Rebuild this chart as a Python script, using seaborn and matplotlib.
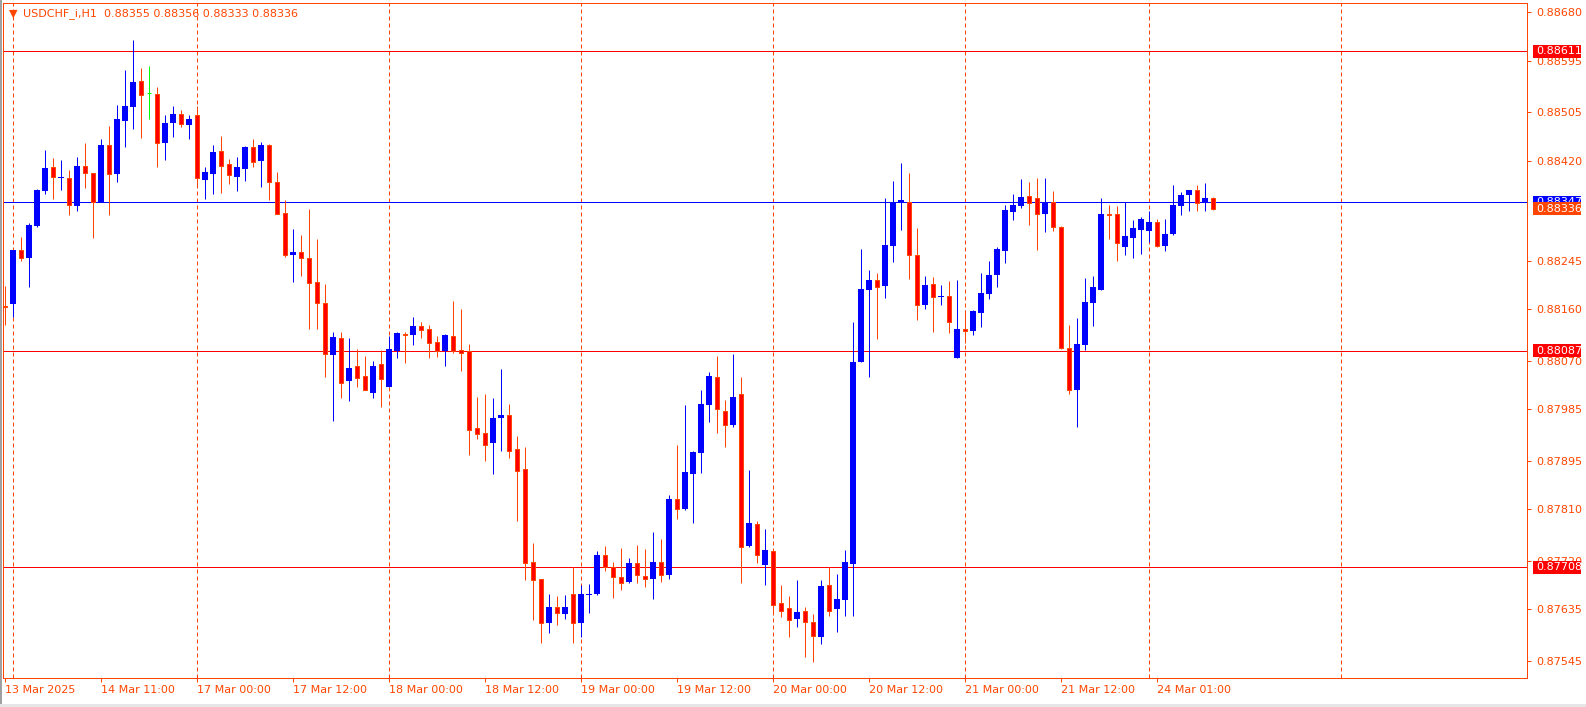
import numpy as np
import pandas as pd
import matplotlib
matplotlib.use("Agg")
import matplotlib.pyplot as plt
import seaborn as sns
from matplotlib.patches import Rectangle
from matplotlib.transforms import blended_transform_factory

# ---------------- data (USDCHF_i, H1) ----------------
opens = [0.88165, 0.88169, 0.88264, 0.88250, 0.88306, 0.88366, 0.88409, 0.88390, 0.88390, 0.88341,
         0.88411, 0.88398, 0.88348, 0.88447, 0.88397, 0.88490, 0.88513, 0.88559, 0.88538, 0.88537,
         0.88450, 0.88485, 0.88501, 0.88483, 0.88500, 0.88386, 0.88397, 0.88437, 0.88414, 0.88391,
         0.88405, 0.88444, 0.88419, 0.88447, 0.88383, 0.88328, 0.88255, 0.88260, 0.88250, 0.88208,
         0.88171, 0.88080, 0.88110, 0.88035, 0.88061, 0.88043, 0.88014, 0.88064, 0.88024, 0.88087,
         0.88117, 0.88115, 0.88131, 0.88125, 0.88103, 0.88087, 0.88113, 0.88089, 0.88087, 0.87952,
         0.87943, 0.87925, 0.87970, 0.87975, 0.87915, 0.87880, 0.87717, 0.87688, 0.87610, 0.87639,
         0.87627, 0.87661, 0.87611, 0.87659, 0.87661, 0.87730, 0.87708, 0.87691, 0.87683, 0.87716,
         0.87693, 0.87688, 0.87717, 0.87694, 0.87828, 0.87811, 0.87872, 0.87909, 0.87993, 0.88041,
         0.87982, 0.87958, 0.88012, 0.87746, 0.87784, 0.87712, 0.87737, 0.87646, 0.87637, 0.87618,
         0.87632, 0.87612, 0.87587, 0.87677, 0.87636, 0.87651, 0.87714, 0.88068, 0.88194, 0.88211,
         0.88201, 0.88270, 0.88347, 0.88347, 0.88255, 0.88168, 0.88204, 0.88181, 0.88183, 0.88075,
         0.88125, 0.88121, 0.88154, 0.88187, 0.88220, 0.88262, 0.88330, 0.88341, 0.88358, 0.88355,
         0.88327, 0.88348, 0.88304, 0.88092, 0.88019, 0.88097, 0.88170, 0.88194, 0.88327, 0.88327,
         0.88269, 0.88285, 0.88299, 0.88296, 0.88313, 0.88271, 0.88292, 0.88341, 0.88359, 0.88369,
         0.88346, 0.88355]
highs = [0.88200, 0.88264, 0.88286, 0.88310, 0.88371, 0.88439, 0.88425, 0.88421, 0.88404, 0.88426,
         0.88451, 0.88398, 0.88458, 0.88480, 0.88517, 0.88579, 0.88631, 0.88582, 0.88586, 0.88549,
         0.88500, 0.88516, 0.88509, 0.88500, 0.88516, 0.88409, 0.88447, 0.88463, 0.88423, 0.88426,
         0.88446, 0.88458, 0.88453, 0.88449, 0.88400, 0.88351, 0.88300, 0.88290, 0.88335, 0.88283,
         0.88204, 0.88120, 0.88120, 0.88110, 0.88090, 0.88078, 0.88069, 0.88089, 0.88113, 0.88120,
         0.88120, 0.88146, 0.88138, 0.88132, 0.88113, 0.88117, 0.88174, 0.88160, 0.88099, 0.88006,
         0.88012, 0.88005, 0.88055, 0.87994, 0.87938, 0.87919, 0.87751, 0.87688, 0.87661, 0.87658,
         0.87660, 0.87709, 0.87677, 0.87679, 0.87737, 0.87746, 0.87717, 0.87742, 0.87725, 0.87747,
         0.87740, 0.87770, 0.87758, 0.87835, 0.87922, 0.87992, 0.87912, 0.88019, 0.88050, 0.88078,
         0.88001, 0.88082, 0.88041, 0.87879, 0.87789, 0.87775, 0.87737, 0.87677, 0.87658, 0.87686,
         0.87639, 0.87626, 0.87686, 0.87709, 0.87696, 0.87738, 0.88137, 0.88265, 0.88228, 0.88223,
         0.88354, 0.88384, 0.88416, 0.88398, 0.88302, 0.88218, 0.88216, 0.88202, 0.88209, 0.88211,
         0.88159, 0.88159, 0.88223, 0.88244, 0.88269, 0.88342, 0.88362, 0.88388, 0.88383, 0.88390,
         0.88390, 0.88367, 0.88306, 0.88133, 0.88145, 0.88215, 0.88218, 0.88355, 0.88342, 0.88341,
         0.88348, 0.88316, 0.88321, 0.88332, 0.88318, 0.88318, 0.88377, 0.88365, 0.88369, 0.88377,
         0.88381, 0.88356]
lows = [0.88132, 0.88146, 0.88245, 0.88199, 0.88303, 0.88362, 0.88353, 0.88369, 0.88324, 0.88332,
        0.88372, 0.88285, 0.88348, 0.88325, 0.88383, 0.88444, 0.88475, 0.88460, 0.88493, 0.88409,
        0.88421, 0.88462, 0.88478, 0.88458, 0.88373, 0.88353, 0.88362, 0.88363, 0.88379, 0.88367,
        0.88384, 0.88409, 0.88374, 0.88351, 0.88327, 0.88252, 0.88208, 0.88218, 0.88125, 0.88125,
        0.88042, 0.87965, 0.88005, 0.88000, 0.88024, 0.88019, 0.88005, 0.87988, 0.88024, 0.88075,
        0.88065, 0.88098, 0.88110, 0.88075, 0.88077, 0.88061, 0.88084, 0.88052, 0.87905, 0.87932,
        0.87895, 0.87872, 0.87912, 0.87900, 0.87790, 0.87686, 0.87616, 0.87576, 0.87594, 0.87608,
        0.87618, 0.87576, 0.87587, 0.87629, 0.87659, 0.87701, 0.87655, 0.87669, 0.87681, 0.87681,
        0.87674, 0.87653, 0.87683, 0.87688, 0.87793, 0.87809, 0.87785, 0.87874, 0.87963, 0.87944,
        0.87919, 0.87953, 0.87680, 0.87743, 0.87716, 0.87677, 0.87628, 0.87622, 0.87587, 0.87604,
        0.87552, 0.87543, 0.87574, 0.87623, 0.87595, 0.87623, 0.87623, 0.88068, 0.88042, 0.88108,
        0.88180, 0.88243, 0.88299, 0.88213, 0.88141, 0.88160, 0.88120, 0.88168, 0.88119, 0.88075,
        0.88101, 0.88114, 0.88129, 0.88178, 0.88199, 0.88241, 0.88316, 0.88337, 0.88307, 0.88264,
        0.88295, 0.88297, 0.88090, 0.88012, 0.87953, 0.88089, 0.88131, 0.88194, 0.88282, 0.88245,
        0.88254, 0.88250, 0.88257, 0.88278, 0.88268, 0.88261, 0.88290, 0.88324, 0.88331, 0.88332,
        0.88332, 0.88333]
closes = [0.88163, 0.88264, 0.88250, 0.88307, 0.88369, 0.88407, 0.88391, 0.88391, 0.88342, 0.88411,
          0.88399, 0.88348, 0.88447, 0.88397, 0.88493, 0.88516, 0.88558, 0.88535, 0.88538, 0.88450,
          0.88485, 0.88501, 0.88484, 0.88493, 0.88390, 0.88400, 0.88435, 0.88411, 0.88394, 0.88409,
          0.88444, 0.88418, 0.88447, 0.88383, 0.88327, 0.88255, 0.88260, 0.88250, 0.88205, 0.88171,
          0.88082, 0.88111, 0.88030, 0.88057, 0.88040, 0.88019, 0.88061, 0.88038, 0.88090, 0.88118,
          0.88114, 0.88131, 0.88124, 0.88101, 0.88086, 0.88115, 0.88087, 0.88084, 0.87949, 0.87942,
          0.87923, 0.87970, 0.87975, 0.87912, 0.87876, 0.87716, 0.87686, 0.87610, 0.87639, 0.87629,
          0.87639, 0.87611, 0.87661, 0.87661, 0.87730, 0.87708, 0.87692, 0.87681, 0.87716, 0.87694,
          0.87688, 0.87717, 0.87694, 0.87828, 0.87811, 0.87875, 0.87910, 0.87994, 0.88043, 0.87986,
          0.87958, 0.88006, 0.87744, 0.87786, 0.87729, 0.87739, 0.87643, 0.87632, 0.87616, 0.87630,
          0.87613, 0.87588, 0.87675, 0.87632, 0.87653, 0.87717, 0.88067, 0.88195, 0.88211, 0.88199,
          0.88272, 0.88347, 0.88351, 0.88255, 0.88168, 0.88202, 0.88182, 0.88183, 0.88138, 0.88125,
          0.88122, 0.88157, 0.88188, 0.88220, 0.88265, 0.88334, 0.88342, 0.88356, 0.88346, 0.88327,
          0.88348, 0.88304, 0.88092, 0.88019, 0.88099, 0.88173, 0.88199, 0.88327, 0.88325, 0.88275,
          0.88288, 0.88302, 0.88318, 0.88313, 0.88271, 0.88292, 0.88342, 0.88360, 0.88369, 0.88346,
          0.88355, 0.88336]

x_tick_bars = [0, 12, 24, 36, 48, 60, 72, 84, 96, 108, 120, 132, 144]
x_tick_labels = ["13 Mar 2025", "14 Mar 11:00", "17 Mar 00:00", "17 Mar 12:00", "18 Mar 00:00",
                 "18 Mar 12:00", "19 Mar 00:00", "19 Mar 12:00", "20 Mar 00:00", "20 Mar 12:00",
                 "21 Mar 00:00", "21 Mar 12:00", "24 Mar 01:00"]
day_start_bars = [1, 24, 48, 72, 96, 120, 143, 167]
y_tick_values = [0.88680, 0.88595, 0.88505, 0.88420, 0.88245, 0.88160, 0.88070,
                 0.87985, 0.87895, 0.87810, 0.87720, 0.87635, 0.87545]
red_levels = [0.88611, 0.88087, 0.87708]
blue_level = 0.88347
symbol = "USDCHF_i,H1"

# ---------------- style ----------------
sns.set_theme(style="white")
plt.rcParams['font.family'] = ['DejaVu Sans']

OR = '#FF4500'
BLUE = '#0000FF'
RED = '#FF0000'
PX = 0.72  # one pixel in points

W, H = 1586, 707
fig = plt.figure(figsize=(W / 100, H / 100), dpi=100)
fig.patch.set_facecolor('white')
L, R, T, B = 3, 1527, 3, 678
ax = fig.add_axes([L / W, 1 - B / H, (R - L) / W, (B - T) / H])
ax.set_facecolor('white')

df = pd.DataFrame({'o': opens, 'h': highs, 'l': lows, 'c': closes})
df['i'] = np.arange(len(df))
bull = df[df.c > df.o]
bear = df[df.c < df.o]
doji = df[df.c == df.o]

# grid (day separators)
for d in day_start_bars:
    ax.axvline(d, color=OR, lw=PX, ls=(0, (4, 3)), zorder=1)

# levels
for v in red_levels:
    ax.axhline(v, color=RED, lw=PX, zorder=2)
ax.axhline(blue_level, color=BLUE, lw=PX, zorder=2)

minh = 1.6e-5
# wicks
ax.vlines(bull.i, bull.l, bull.h, colors=BLUE, lw=PX, zorder=3)
ax.vlines(bear.i, bear.l, bear.h, colors=OR, lw=PX, zorder=3)
ax.vlines(doji.i, doji.l, doji.h, colors='#00FF00', lw=PX, zorder=3)
# bodies
ax.bar(bull.i, np.maximum(bull.c - bull.o, minh), bottom=bull.o, width=0.65,
       color=BLUE, linewidth=0, zorder=4)
ax.bar(bear.i, np.maximum(bear.o - bear.c, minh), bottom=bear.c, width=0.52,
       color=RED, edgecolor=OR, linewidth=PX, zorder=4)
ax.hlines(doji.o, doji.i - 0.3, doji.i + 0.3, colors='#00FF00', lw=PX, zorder=4)

ax.set_xlim(-0.25, 190.25)
ax.set_ylim(0.875144, 0.886958)

for s in ax.spines.values():
    s.set_color(OR)
    s.set_linewidth(PX)
    s.set_visible(True)

ax.yaxis.tick_right()
ax.set_yticks(y_tick_values)
ax.set_yticklabels([f"{v:.5f}" for v in y_tick_values])
ax.tick_params(axis='y', which='both', right=True, left=False, direction='out', length=3,
               width=PX, colors=OR, labelsize=8, pad=4)
ax.set_xticks(x_tick_bars)
ax.set_xticklabels(x_tick_labels, ha='left')
ax.tick_params(axis='x', which='both', bottom=True, direction='out', length=3,
               width=PX, colors=OR, labelsize=8, pad=2)
ax.grid(False)

# right-side price labels
tr = blended_transform_factory(ax.transAxes, ax.transData)
px_price = (0.886958 - 0.875144) / (B - T)
bx0 = (1533 - L) / (R - L)
bw = 48 / (R - L)
bh = 13 * px_price
tx = (1536 - L) / (R - L)


def price_box(value, face, z):
    ax.add_patch(Rectangle((bx0, value - bh / 2), bw, bh, transform=tr, facecolor=face,
                           edgecolor='none', clip_on=False, zorder=z))
    ax.text(tx, value, f"{value:.5f}", transform=tr, color='white', fontsize=8,
            va='center', ha='left', clip_on=False, zorder=z + 0.5)


for v in red_levels:
    price_box(v, RED, 10)
price_box(blue_level, BLUE, 11)
price_box(closes[-1], OR, 12)

# header
hdr = f"{opens[-1]:.5f} {highs[-1]:.5f} {lows[-1]:.5f} {closes[-1]:.5f}"
fig.text(13 / W, 1 - 14 / H, "\u25BC", color=OR, fontsize=8, ha='center', va='center')
fig.text(23 / W, 1 - 14 / H, symbol, color=OR, fontsize=8, ha='left', va='center')
fig.text(104 / W, 1 - 14 / H, hdr, color=OR, fontsize=8, ha='left', va='center')

# window borders
fig.add_artist(Rectangle((0, 0), 2 / W, 1, transform=fig.transFigure, facecolor='#A0A0A0',
                         edgecolor='none'))
fig.add_artist(Rectangle((0, 0), 1, 3 / H, transform=fig.transFigure, facecolor='#E6E6E6',
                         edgecolor='none'))

fig.savefig("out.png", dpi=100)
